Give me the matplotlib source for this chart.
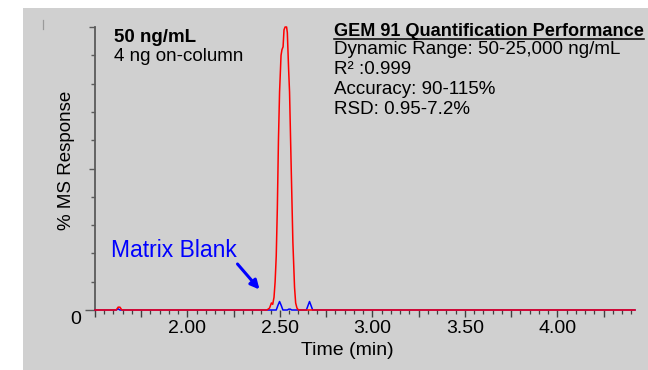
import matplotlib
matplotlib.use('Agg')
import matplotlib.pyplot as plt
from matplotlib.patches import Rectangle
from matplotlib.lines import Line2D
from matplotlib.ticker import MultipleLocator

plt.rcParams['font.family'] = ['Liberation Sans', 'DejaVu Sans']

# 50 ng/mL sample trace (time in min, % MS response)
sample_time = [1.50, 1.615, 1.625, 1.635, 1.645, 2.430, 2.444, 2.454, 2.461, 2.468, 2.474,
               2.480, 2.486, 2.492, 2.498, 2.506, 2.511, 2.517, 2.522, 2.528, 2.536,
               2.540, 2.547, 2.552, 2.561, 2.570, 2.579, 2.585, 2.592, 2.600, 4.42]
sample_resp = [0, 0, 1.0, 1.0, 0, 0, 0.7, 2.5, 2.0, 4.5, 10,
               19, 36, 60, 77, 90, 92, 93, 99, 100, 100,
               98, 85, 77, 50, 24, 8, 2.5, 0.7, 0, 0]

# matrix blank trace
blank_time = [1.50, 1.615, 1.625, 1.635, 2.480, 2.489, 2.498, 2.507, 2.516, 2.540,
              2.548, 2.556, 2.564, 2.643, 2.652, 2.660, 2.668, 2.677, 4.42]
blank_resp = [0, 0, 0.4, 0, 0, 1.6, 3.0, 1.6, 0, 0,
              0.3, 0.3, 0, 0, 1.6, 3.0, 1.6, 0, 0]

x_tick_pos = [1.50, 1.75, 2.00, 2.25, 2.50, 2.75, 3.00, 3.25, 3.50, 3.75, 4.00, 4.25]
x_tick_labels = ['', '', '2.00', '', '2.50', '', '3.00', '', '3.50', '', '4.00', '']
y_tick_pos = [0, 10, 20, 30, 40, 50, 60, 70, 80, 90, 100]

sample_lines = ['50 ng/mL', '4 ng on-column']
perf_title = 'GEM 91 Quantification Performance'
perf_lines = ['Dynamic Range: 50-25,000 ng/mL', 'R² :0.999', 'Accuracy: 90-115%', 'RSD: 0.95-7.2%']

W, H = 648, 370
def fx(px):
    return px / W
def fy(py):
    return 1 - py / H

fig = plt.figure(figsize=(6.48, 3.70), dpi=100)
fig.patch.set_facecolor('white')
fig.add_artist(Rectangle((fx(23), 0), 1 - fx(23), fy(8), transform=fig.transFigure,
                         facecolor='#d0d0d0', edgecolor='none', zorder=0))
fig.add_artist(Line2D([fx(42.5), fx(42.5)], [fy(20), fy(29)], color='#9a9a9a', lw=0.9))

ax = fig.add_axes([fx(95), fy(310), fx(635) - fx(95), fy(27) - fy(310)])
ax.patch.set_visible(False)
ax.set_xlim(1.50, 4.42)
ax.set_ylim(0, 100)

ax.plot(blank_time, blank_resp, color='#0000ff', lw=1.1, clip_on=False, zorder=3)
ax.plot(sample_time, sample_resp, color='#ff0000', lw=1.1, clip_on=False, zorder=4)

for s in ['top', 'right', 'bottom']:
    ax.spines[s].set_visible(False)
ax.spines['left'].set_color('#5a5a5a')
ax.spines['left'].set_linewidth(1.3)

ax.set_xticks(x_tick_pos, x_tick_labels)
ax.xaxis.set_minor_locator(MultipleLocator(0.05))
ax.tick_params(axis='x', which='major', direction='out', length=5, width=1,
               color='#404040', labelsize=14, pad=2.5)
ax.tick_params(axis='x', which='minor', direction='out', length=3, width=0.9, color='#404040')

ax.set_yticks(y_tick_pos, [''] * len(y_tick_pos))
ax.tick_params(axis='y', direction='out', length=3, width=1, color='#5a5a5a')
yt = ax.yaxis.get_major_ticks()
yt[0].tick1line.set_markersize(7.5)
yt[5].tick1line.set_markersize(4.5)
yt[10].tick1line.set_markersize(4)

fig.text(fx(76), fy(324), '0', fontsize=14, ha='center', va='baseline')
fig.text(fx(347), fy(355), 'Time (min)', fontsize=14, ha='center', va='baseline')
fig.text(fx(66.5), fy(160), '% MS Response', fontsize=13.5, rotation=90, ha='center', va='center')

fig.text(fx(114), fy(42), sample_lines[0], fontsize=13.5, fontweight='bold', va='baseline')
fig.text(fx(114), fy(61), sample_lines[1], fontsize=13.5, va='baseline')

t = fig.text(fx(334), fy(36), perf_title, fontsize=13.1, fontweight='bold', va='baseline')
for i, line in enumerate(perf_lines):
    fig.text(fx(334), fy(54.5 + 19.8 * i), line, fontsize=13.5, va='baseline')

fig.canvas.draw()
bb = t.get_window_extent()
fig.add_artist(Line2D([bb.x0 / W, bb.x1 / W], [fy(38.5), fy(38.5)], color='black', lw=1.1))

fig.text(fx(111), fy(257), 'Matrix Blank', fontsize=16.5, color='#0000ff', va='baseline')
ax.annotate('', xy=(259.5, H - 289.5), xytext=(237.5, H - 264), xycoords='figure pixels',
            arrowprops=dict(arrowstyle='-|>', color='#0000ff', lw=2.2, mutation_scale=13,
                            shrinkA=0, shrinkB=0))

fig.savefig('out.png', dpi=100)
